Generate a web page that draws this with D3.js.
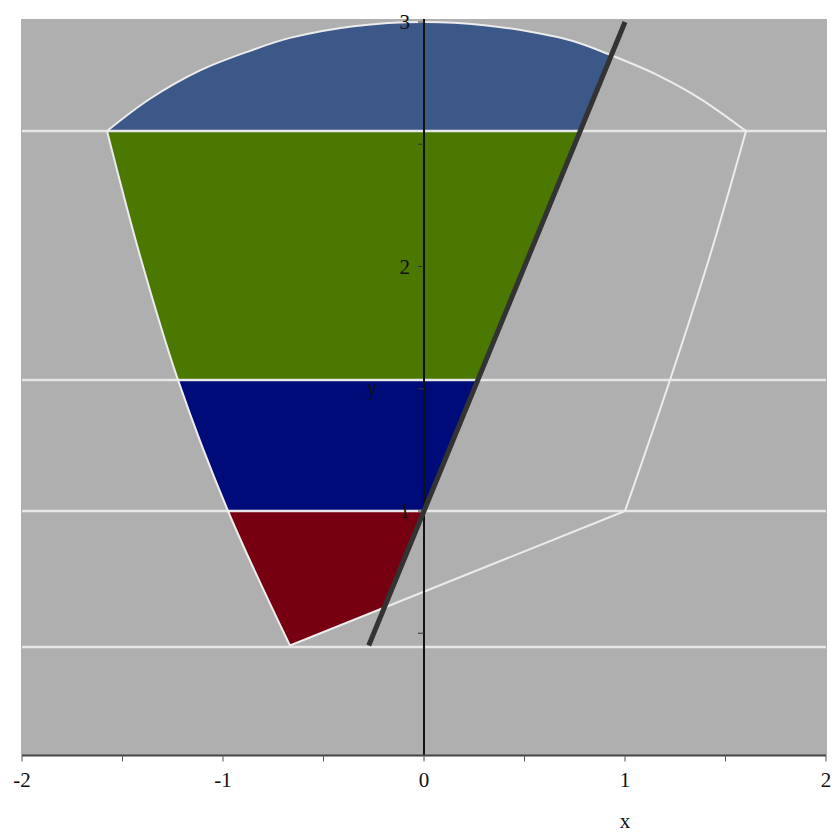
<!DOCTYPE html>
<html>
<head>
<meta charset="utf-8">
<script src="https://cdn.jsdelivr.net/npm/d3@7"></script>
<style>
  body { margin: 0; background: #fff; }
  text { font-family: "Liberation Serif", "DejaVu Serif", serif; }
</style>
</head>
<body>
<div id="chart"></div>
<script>
// outline of the region, as four sides, clockwise from upper-left corner
const arcX = [-1.577, -1.363, -1.114, -0.866, -0.667, -0.35, 0, 0.3, 0.577, 0.741, 0.925, 1.159, 1.373, 1.602];
const arcY = [2.554, 2.686, 2.802, 2.882, 2.935, 2.983, 3.0, 2.987, 2.953, 2.922, 2.866, 2.784, 2.687, 2.554];
const rightX = [1.602, 1.425, 1.224, 1.0];
const rightY = [2.554, 2.05, 1.536, 1.0];
const bottomX = [1.0, -0.667];
const bottomY = [1.0, 0.45];
const leftX = [-0.667, -0.975, -1.224, -1.415, -1.577];
const leftY = [0.45, 1.0, 1.536, 2.05, 2.554];

// horizontal level lines and the bands filled between them
const levels = [0.444, 1.0, 1.536, 2.554];
const bandLo = [0.444, 1.0, 1.536, 2.554];
const bandHi = [1.0, 1.536, 2.554, 3.1];
const bandColors = ["#770010", "#000b7a", "#4a7800", "#3c5889"];

// straight line y = 2x + 1
const lineX = [-0.275, 1.0];
const lineY = [0.45, 3.0];

const xTicks = [-2, -1.5, -1, -0.5, 0, 0.5, 1, 1.5, 2];
const xTickLabels = ["-2", "-1", "0", "1", "2"];
const yTicks = [0.5, 1, 1.5, 2, 2.5, 3];
const yTickLabels = ["1", "2", "3"];

const width = 838, height = 836;
const margin = { top: 22, right: 12, bottom: 80, left: 22 };

const svg = d3.select("#chart")
  .append("svg")
  .attr("width", width)
  .attr("height", height);

const x = d3.scaleLinear()
  .domain([-2, 2])
  .range([margin.left, 826]);

const y = d3.scaleLinear()
  .domain([0, 3])
  .range([755.5, margin.top]);

// plot background
svg.append("rect")
  .attr("x", x(-2) - 1)
  .attr("y", y(3) - 3)
  .attr("width", x(2) - x(-2) + 2)
  .attr("height", y(0) - y(3) + 3)
  .attr("fill", "#afafaf");

const pts = (xs, ys) => xs.map((d, i) => [d, ys[i]]);
const smooth = d3.line().x(d => x(d[0])).y(d => y(d[1])).curve(d3.curveCatmullRom);
const straight = d3.line().x(d => x(d[0])).y(d => y(d[1]));

// one closed path made of the four sides
const outlinePath = [
  smooth(pts(arcX, arcY)),
  smooth(pts(rightX, rightY)).replace(/^M/, "L"),
  straight(pts(bottomX, bottomY)).replace(/^M/, "L"),
  smooth(pts(leftX, leftY)).replace(/^M/, "L")
].join("") + "Z";

// bands: shape clipped to band and to the left of the line
const xOnLine = v => (v - 1) / 2;
bandLo.forEach((lo, i) => {
  const hi = bandHi[i];
  const clip = [[-2, lo], [xOnLine(lo), lo], [xOnLine(hi), hi], [-2, hi]];
  svg.append("clipPath")
    .attr("id", "band" + i)
    .append("path")
    .attr("d", straight(clip) + "Z");
  svg.append("path")
    .attr("d", outlinePath)
    .attr("fill", bandColors[i])
    .attr("clip-path", `url(#band${i})`);
});

// horizontal level lines
svg.selectAll(".level")
  .data(levels)
  .join("line")
  .attr("class", "level")
  .attr("x1", x(-2))
  .attr("x2", x(2))
  .attr("y1", d => y(d))
  .attr("y2", d => y(d))
  .attr("stroke", "#e6e6e6")
  .attr("stroke-width", 2.5);

// white outline
svg.append("path")
  .attr("d", outlinePath)
  .attr("fill", "none")
  .attr("stroke", "#ececec")
  .attr("stroke-width", 2)
  .attr("stroke-linejoin", "round");

// y axis line at x = 0
svg.append("line")
  .attr("x1", x(0))
  .attr("x2", x(0))
  .attr("y1", y(3) - 3)
  .attr("y2", y(0))
  .attr("stroke", "#111")
  .attr("stroke-width", 2);

svg.selectAll(".ytick")
  .data(yTicks)
  .join("line")
  .attr("class", "ytick")
  .attr("x1", x(0) - 6)
  .attr("x2", x(0))
  .attr("y1", d => y(d))
  .attr("y2", d => y(d))
  .attr("stroke", "#333")
  .attr("stroke-width", 1);

svg.selectAll(".ylab")
  .data(yTickLabels)
  .join("text")
  .attr("class", "ylab")
  .attr("x", x(0) - 14)
  .attr("y", d => y(+d))
  .attr("dy", "0.35em")
  .attr("text-anchor", "end")
  .attr("font-size", 21)
  .attr("fill", "#111")
  .text(d => d);

svg.append("text")
  .attr("x", 372)
  .attr("y", y(1.5))
  .attr("dy", "0.3em")
  .attr("text-anchor", "middle")
  .attr("font-size", 21)
  .attr("fill", "#111")
  .text("y");

// thick line y = 2x + 1
svg.append("line")
  .attr("x1", x(lineX[0]))
  .attr("y1", y(lineY[0]))
  .attr("x2", x(lineX[1]))
  .attr("y2", y(lineY[1]))
  .attr("stroke", "#333")
  .attr("stroke-width", 5);

// x axis
svg.append("line")
  .attr("x1", x(-2))
  .attr("x2", x(2))
  .attr("y1", y(0))
  .attr("y2", y(0))
  .attr("stroke", "#444")
  .attr("stroke-width", 2);

svg.selectAll(".xtick")
  .data(xTicks)
  .join("line")
  .attr("class", "xtick")
  .attr("x1", d => x(d))
  .attr("x2", d => x(d))
  .attr("y1", y(0))
  .attr("y2", y(0) + 6)
  .attr("stroke", "#555")
  .attr("stroke-width", 1);

svg.selectAll(".xlab")
  .data(xTickLabels)
  .join("text")
  .attr("class", "xlab")
  .attr("x", d => x(+d))
  .attr("y", 780)
  .attr("dy", "0.35em")
  .attr("text-anchor", "middle")
  .attr("font-size", 21)
  .attr("fill", "#111")
  .text(d => d);

svg.append("text")
  .attr("x", x(1))
  .attr("y", 822)
  .attr("dy", "0.3em")
  .attr("text-anchor", "middle")
  .attr("font-size", 21)
  .attr("fill", "#111")
  .text("x");
</script>
</body>
</html>
